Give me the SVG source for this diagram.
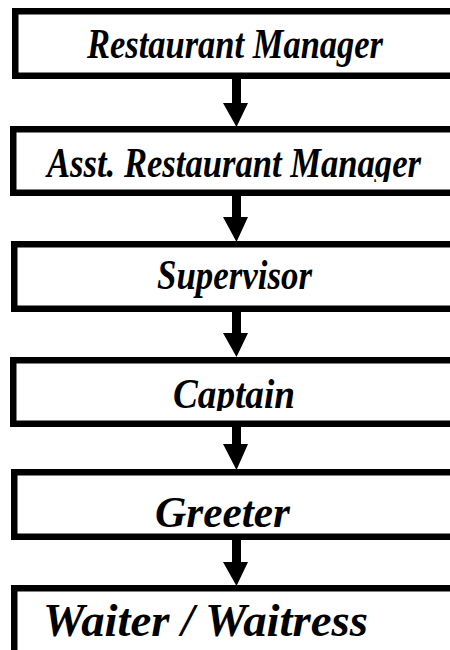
<svg xmlns="http://www.w3.org/2000/svg" width="450" height="650" viewBox="0 0 450 650">
  <style>
    .box { fill: #ffffff; stroke: #000000; stroke-width: 6.5; }
    .label { font-family: "Liberation Serif", "Times New Roman", serif; font-weight: bold; font-style: italic; fill: #000000; }
    .shaft { fill: #000000; }
  </style>
  <defs>
    <!-- label frames that trim the descenders of the longer titles -->
    <clipPath id="clip-asst"><rect x="0" y="120" width="450" height="62"/></clipPath>
    <clipPath id="clip-captain"><rect x="0" y="350" width="450" height="61"/></clipPath>
  </defs>
  <rect x="0" y="0" width="450" height="650" fill="#ffffff"/>

  <!-- thick down arrows between consecutive roles -->
  <g id="connectors">
    <path class="shaft" d="M232,79 H241 V103 H248 L236.5,127 L223,103 H232 Z"/>
    <path class="shaft" d="M232,196 H241 V217 H248 L236.5,242 L223,217 H232 Z"/>
    <path class="shaft" d="M232,312 H241 V333 H248 L236.5,357 L223,333 H232 Z"/>
    <path class="shaft" d="M232,427 H241 V444 H248 L236.5,470 L223,444 H232 Z"/>
    <path class="shaft" d="M232,540 H241 V562 H248 L236.5,586 L223,562 H232 Z"/>
  </g>

  <g id="restaurant-manager">
    <rect class="box" x="15.25" y="11.25" width="448" height="64.5"/>
    <text class="label" x="87" y="58" font-size="42" textLength="296" lengthAdjust="spacingAndGlyphs">Restaurant Manager</text>
  </g>
  <g id="asst-restaurant-manager">
    <rect class="box" x="13.25" y="129.25" width="448" height="63.5"/>
    <text class="label" x="47" y="177" font-size="42" textLength="374" lengthAdjust="spacingAndGlyphs" clip-path="url(#clip-asst)">Asst. Restaurant Manager</text>
  </g>
  <g id="supervisor">
    <rect class="box" x="14.25" y="244.25" width="448" height="64.5"/>
    <text class="label" x="157" y="289" font-size="42" textLength="155" lengthAdjust="spacingAndGlyphs">Supervisor</text>
  </g>
  <g id="captain">
    <rect class="box" x="13.25" y="360.25" width="448" height="63.5"/>
    <text class="label" x="173" y="408" font-size="42" textLength="122" lengthAdjust="spacingAndGlyphs" clip-path="url(#clip-captain)">Captain</text>
  </g>
  <g id="greeter">
    <rect class="box" x="14.25" y="472.25" width="448" height="64.5"/>
    <text class="label" x="155" y="527" font-size="44" textLength="135" lengthAdjust="spacingAndGlyphs">Greeter</text>
  </g>
  <g id="waiter-waitress">
    <rect class="box" x="14.25" y="588.25" width="448" height="80"/>
    <text class="label" x="43" y="636" font-size="46" textLength="325" lengthAdjust="spacingAndGlyphs">Waiter / Waitress</text>
  </g>
</svg>
